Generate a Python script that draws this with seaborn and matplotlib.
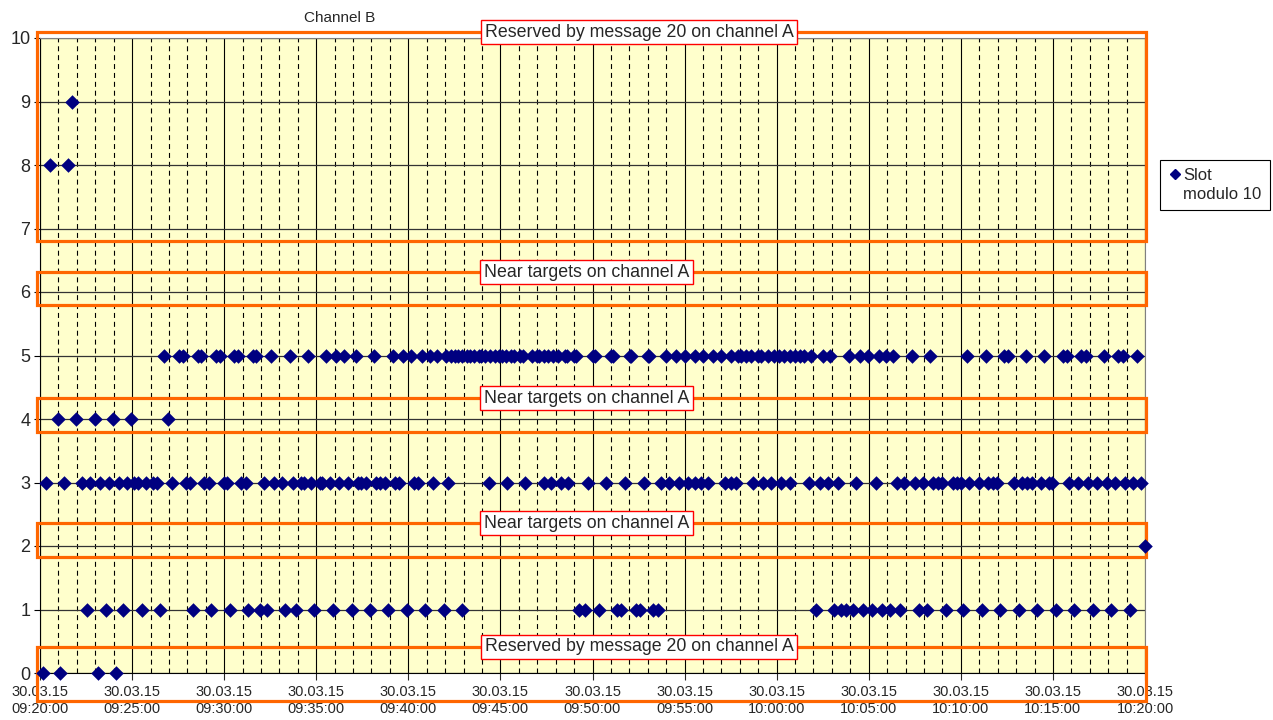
import matplotlib
matplotlib.use('Agg')
import matplotlib.pyplot as plt
import matplotlib.dates as mdates
from matplotlib.patches import Rectangle
from matplotlib.lines import Line2D
import pandas as pd
import seaborn as sns

# Slot modulo 10 received on channel B, 30.03.15 09:20 - 10:20
# times are minutes after 09:20:00
slot0 = [0.14, 1.11, 3.14, 4.14]
slot1 = [2.54, 3.56, 4.53, 5.55, 6.53, 8.30, 9.30, 10.33, 11.32, 11.92, 12.31,
         13.33, 13.91, 14.90, 15.90, 16.93, 17.93, 18.92, 19.94, 20.93, 21.96,
         22.92, 29.29, 29.57, 30.34, 31.32, 31.56, 32.37, 32.59, 33.27, 33.54,
         42.15, 43.14, 43.50, 43.77, 44.13, 44.71, 45.19, 45.73, 46.16, 46.72,
         47.72, 48.15, 49.17, 50.14, 51.14, 52.15, 53.15, 54.15, 55.18, 56.17,
         57.16, 58.16, 59.16]
slot2 = [60.0]
slot3 = [0.30, 1.33, 2.29, 2.73, 3.28, 3.74, 4.28, 4.71, 5.13, 5.31, 5.73,
         6.16, 6.34, 7.18, 7.94, 8.16, 8.93, 9.15, 9.98, 10.16, 10.92, 11.16,
         12.15, 12.73, 13.15, 13.73, 14.18, 14.31, 14.73, 15.18, 15.32, 15.72,
         16.26, 16.75, 17.26, 17.44, 17.71, 18.26, 18.47, 18.71, 19.30, 19.48,
         20.33, 20.51, 21.33, 22.14, 24.37, 25.37, 26.36, 27.34, 27.76, 28.30,
         28.66, 29.74, 30.74, 31.79, 32.77, 33.73, 34.18, 34.72, 35.17, 35.54,
         35.90, 36.26, 37.17, 37.53, 37.80, 38.70, 39.25, 39.70, 40.25, 40.70,
         41.78, 42.33, 42.78, 43.32, 44.32, 45.37, 46.52, 46.94, 47.52, 47.97,
         48.48, 48.75, 48.99, 49.56, 49.78, 50.02, 50.47, 50.97, 51.46, 51.73,
         51.95, 52.87, 53.33, 53.58, 53.87, 54.36, 54.78, 54.96, 55.90, 56.35,
         56.93, 57.38, 57.92, 58.38, 58.94, 59.37, 59.79]
slot4 = [0.97, 1.97, 2.96, 3.95, 4.95, 6.94]
slot5 = [6.71, 7.57, 7.75, 8.57, 8.75, 9.57, 9.75, 10.56, 10.74, 11.55, 11.74,
         12.55, 13.55, 14.54, 15.54, 16.08, 16.53, 17.17, 18.16, 19.16, 19.70,
         20.16, 20.75, 21.15, 21.55, 22.06, 22.29, 22.51, 22.72, 22.94, 23.16,
         23.37, 23.59, 23.81, 23.97, 24.14, 24.41, 24.68, 24.95, 25.11, 25.33,
         25.60, 25.76, 26.04, 26.20, 26.69, 26.96, 27.12, 27.39, 27.56, 27.83,
         28.10, 28.48, 28.64, 29.02, 29.13, 30.02, 30.11, 31.01, 31.10, 32.01,
         32.10, 33.00, 33.09, 34.00, 34.54, 35.00, 35.54, 35.99, 36.53, 36.99,
         37.53, 37.89, 38.07, 38.35, 38.62, 38.98, 39.16, 39.52, 39.88, 40.15,
         40.42, 40.70, 40.97, 41.24, 41.51, 41.87, 42.50, 42.87, 43.95, 44.50,
         44.95, 45.58, 45.91, 46.31, 47.36, 48.35, 50.35, 51.34, 52.32, 52.55,
         53.55, 54.54, 55.54, 55.75, 56.53, 56.81, 57.75, 58.52, 58.79, 59.55]
slot8 = [0.52, 1.51]
slot9 = [1.73]

slots = {0: slot0, 1: slot1, 2: slot2, 3: slot3, 4: slot4, 5: slot5,
         8: slot8, 9: slot9}

# blocked slot bands (slot-value ranges) and their captions
zone_lo = [6.80, 5.80, 3.80, 1.83, -0.44]
zone_hi = [10.09, 6.31, 4.33, 2.36, 0.41]
zone_text = ['Reserved by message 20 on channel A',
             'Near targets on channel A',
             'Near targets on channel A',
             'Near targets on channel A',
             'Reserved by message 20 on channel A']

start = pd.Timestamp('2015-03-30 09:20:00')
end = pd.Timestamp('2015-03-30 10:20:00')

rows = []
for slot, minutes in slots.items():
    for m in minutes:
        rows.append({'time': start + pd.Timedelta(minutes=m), 'slot': slot})
df = pd.DataFrame(rows)

sns.set_style('ticks')
plt.rcParams['font.family'] = ['Liberation Sans', 'DejaVu Sans']

navy = '#000080'
fig = plt.figure(figsize=(12.73, 7.2), dpi=100)
ax = fig.add_axes([40 / 1273, 1 - 673 / 720, 1105 / 1273, 635 / 720])
ax.set_facecolor('#FFFFCC')

sns.scatterplot(data=df, x='time', y='slot', marker='D', s=55,
                color=navy, edgecolor=navy, linewidth=0,
                ax=ax, zorder=5, clip_on=False, legend=False)

ax.set_xlim(start, end)
ax.set_ylim(0, 10)
ax.set_yticks(range(0, 11))
ax.xaxis.set_major_locator(mdates.MinuteLocator(byminute=range(0, 60, 5)))
ax.xaxis.set_minor_locator(mdates.MinuteLocator())
ax.xaxis.set_major_formatter(mdates.DateFormatter('%d.%m.%y\n%H:%M:%S'))

ax.grid(True, which='major', axis='y', color='#333333', lw=0.9)
ax.grid(True, which='major', axis='x', color='black', lw=0.8)
ax.grid(True, which='minor', axis='x', color='black', lw=0.8,
        linestyle=(0, (4.5, 3.5)))
ax.set_axisbelow(True)

ax.tick_params(axis='y', labelsize=13, length=4, color='black', pad=3)
ax.tick_params(axis='x', which='major', labelsize=10.5, length=5, pad=4)
ax.tick_params(axis='x', which='minor', length=0)
ax.set_xlabel('')
ax.set_ylabel('')
for side in ['top', 'right']:
    ax.spines[side].set_color('#808080')
for side in ['left', 'bottom']:
    ax.spines[side].set_color('black')

# orange bands for the blocked slots, with their captions
x0 = mdates.date2num(start - pd.Timedelta(minutes=0.19))
width = mdates.date2num(end + pd.Timedelta(minutes=0.08)) - x0
for lo, hi, txt in zip(zone_lo, zone_hi, zone_text):
    ax.add_patch(Rectangle((x0, lo), width, hi - lo, fill=False,
                           edgecolor='#FF6600', lw=2.3, clip_on=False,
                           zorder=4))
    mid = 32.55 if 'Reserved' in txt else 29.67
    ax.text(start + pd.Timedelta(minutes=mid), hi, txt, ha='center',
            va='center', fontsize=12.8, zorder=6, clip_on=False,
            bbox=dict(boxstyle='square,pad=0.2', facecolor='white',
                      edgecolor='red', lw=1))

fig.text(340 / 1273, 1 - 18 / 720, 'Channel B', ha='center', va='center',
         fontsize=11)

# legend: diamond next to the first line of a two-line label
handles = [Line2D([], [], marker='D', color=navy, ls='none', markersize=5.5),
           Line2D([], [], ls='none')]
leg = ax.legend(handles, ['Slot', 'modulo 10'], loc='center left',
                bbox_to_anchor=(1160 / 1273, 1 - 185 / 720),
                bbox_transform=fig.transFigure, frameon=True, fancybox=False,
                edgecolor='black', framealpha=1, fontsize=12,
                handletextpad=0.1, handlelength=0.8, borderpad=0.5,
                labelspacing=0.25, borderaxespad=0)
leg.get_frame().set_linewidth(0.8)

fig.savefig('out.png', dpi=100)
